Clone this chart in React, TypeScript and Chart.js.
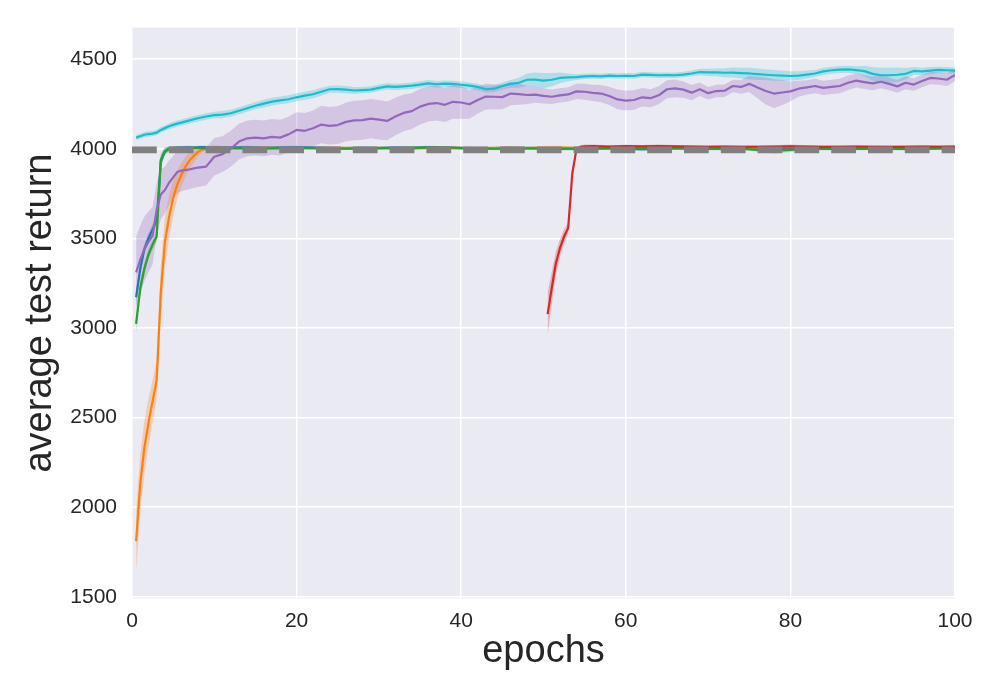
import { useEffect, useRef } from "react"
import { Chart, registerables, type Plugin } from "chart.js"

Chart.register(...registerables)

// x grids (epochs)
const fastEpochs = [
  0.5, 1, 1.5, 2, 2.5, 3, 3.5, 4, 4.5, 5,
  5.5, 6, 6.5, 7, 7.5, 8, 8.5, 9, 9.5, 10,
  12, 14, 16, 18, 20, 22, 24, 26, 28, 30,
  32, 34, 36, 38, 40, 42, 44, 46, 48, 50,
  52, 54, 56, 58, 60, 62, 64, 66, 68, 70,
  72, 74, 76, 78, 80, 82, 84, 86, 88, 90,
  92, 94, 96, 98, 100,
]

const redEpochs = [
  50.5, 51, 51.5, 52, 52.5, 53, 53.5, 54, 54.5, 55,
  56, 58, 60, 62, 64, 66, 68, 70, 72, 74,
  76, 78, 80, 82, 84, 86, 88, 90, 92, 94,
  96, 98, 100,
]

const longEpochs = [
  0.5, 1, 1.5, 2, 2.5, 3, 3.5, 4, 4.5, 5,
  5.5, 6, 7, 8, 9, 10, 11, 12, 13, 14,
  15, 16, 17, 18, 19, 20, 21, 22, 23, 24,
  25, 26, 27, 28, 29, 30, 31, 32, 33, 34,
  35, 36, 37, 38, 39, 40, 41, 42, 43, 44,
  45, 46, 47, 48, 49, 50, 51, 52, 53, 54,
  55, 56, 57, 58, 59, 60, 61, 62, 63, 64,
  65, 66, 67, 68, 69, 70, 71, 72, 73, 74,
  75, 76, 77, 78, 79, 80, 81, 82, 83, 84,
  85, 86, 87, 88, 89, 90, 91, 92, 93, 94,
  95, 96, 97, 98, 99, 100,
]

// blue
const blueValues = [
  3171, 3330, 3440, 3500, 3550, 3600, 3930, 3985, 4000, 4005,
  4006, 4007, 4008, 4008, 4007, 4008, 4009, 4008, 4007, 4008,
  4006, 4008, 4005, 4007, 4008, 4006, 4004, 4003, 4005, 4004,
  4006, 4005, 4008, 4006, 4004, 4002, 4003, 4005, 4004, 4003,
  4000, 4002, 4004, 4003, 4000, 3998, 4000, 4002, 4003, 4001,
  4000, 4002, 3996, 3998, 4000, 4002, 4000, 3998, 4000, 4002,
  4000, 3999, 4001, 4002, 4004,
]
const blueSpread = [
  40, 35, 30, 28, 28, 30, 35, 20, 12, 10,
  8, 8, 8, 8, 8, 8, 8, 8, 8, 8,
  8, 8, 8, 8, 8, 8, 8, 8, 8, 8,
  8, 8, 8, 8, 8, 8, 8, 8, 8, 8,
  8, 10, 8, 8, 10, 12, 10, 8, 8, 8,
  8, 8, 10, 10, 8, 8, 8, 8, 8, 8,
  8, 8, 8, 8, 8,
]

// green
const greenValues = [
  3022, 3220, 3330, 3410, 3465, 3510, 3940, 3985, 4000, 4004,
  4005, 4004, 4003, 4004, 4005, 4004, 4003, 4002, 4003, 4004,
  4003, 4004, 4002, 4003, 4004, 4003, 4002, 4001, 4002, 4003,
  4004, 4005, 4006, 4007, 4004, 4002, 4000, 4001, 4002, 4002,
  4001, 4000, 4001, 4002, 4003, 4002, 4003, 4004, 4002, 4000,
  4001, 4000, 3995, 3988, 3994, 4000, 4001, 4002, 4001, 4000,
  4002, 4003, 4002, 4003, 4004,
]
const greenSpread = [
  45, 40, 35, 30, 28, 30, 35, 20, 12, 10,
  8, 8, 8, 8, 8, 8, 8, 8, 8, 8,
  8, 8, 8, 8, 8, 8, 8, 8, 8, 8,
  8, 8, 8, 8, 8, 8, 8, 8, 8, 8,
  8, 8, 8, 8, 8, 8, 8, 8, 8, 8,
  8, 8, 10, 15, 12, 8, 8, 8, 8, 8,
  8, 8, 8, 8, 8,
]

// orange
const orangeValues = [
  1810, 2130, 2330, 2470, 2590, 2710, 3200, 3480, 3620, 3724,
  3800, 3855, 3900, 3935, 3960, 3982, 3995, 4002, 4005, 4006,
  4004, 4003, 4005, 4004, 4003, 4004, 4005, 4004, 4003, 4004,
  4003, 4002, 4004, 4005, 4003, 4002, 4004, 4005, 4004, 4005,
  4006, 4004, 4005, 4006, 4007, 4008, 4010, 4008, 4006, 4005,
  4004, 4006, 4005, 4008, 4010, 4008, 4006, 4005, 4006, 4005,
  4004, 4006, 4007, 4008, 4009,
]
const orangeSpread = [
  170, 160, 150, 135, 120, 110, 150, 140, 120, 100,
  80, 65, 55, 45, 35, 25, 18, 12, 10, 10,
  10, 10, 10, 10, 10, 10, 10, 10, 10, 10,
  10, 10, 10, 10, 10, 10, 10, 10, 10, 10,
  10, 10, 10, 10, 10, 10, 10, 10, 10, 10,
  10, 10, 10, 10, 10, 10, 10, 10, 10, 10,
  10, 10, 10, 10, 10,
]

// red
const redValues = [
  3077, 3222, 3360, 3445, 3510, 3557, 3863, 3995, 4010, 4013,
  4014, 4012, 4014, 4013, 4015, 4013, 4012, 4011, 4012, 4010,
  4011, 4012, 4013, 4012, 4010, 4011, 4012, 4011, 4010, 4011,
  4012, 4011, 4012,
]
const redSpread = [
  120, 90, 65, 50, 40, 30, 25, 15, 10, 10,
  10, 8, 8, 8, 8, 8, 8, 8, 8, 8,
  8, 8, 10, 8, 8, 8, 8, 8, 8, 8,
  8, 8, 8,
]

// purple
const purpleValues = [
  3310, 3380, 3440, 3480, 3515, 3660, 3745, 3770, 3810, 3840,
  3870, 3878, 3885, 3895, 3900, 3955, 3970, 4000, 4040, 4058,
  4062, 4058, 4066, 4062, 4080, 4105, 4100, 4114, 4135, 4128,
  4132, 4150, 4158, 4160, 4168, 4162, 4155, 4180, 4200, 4210,
  4235, 4250, 4255, 4245, 4262, 4258, 4248, 4272, 4291, 4290,
  4288, 4308, 4305, 4300, 4302, 4295, 4290, 4298, 4303, 4320,
  4318, 4312, 4308, 4294, 4275, 4268, 4272, 4287, 4282, 4298,
  4332, 4337, 4330, 4313, 4332, 4310, 4322, 4324, 4350, 4345,
  4362, 4342, 4322, 4308, 4314, 4320, 4335, 4342, 4350, 4340,
  4345, 4350, 4368, 4380, 4372, 4365, 4374, 4362, 4348, 4368,
  4358, 4378, 4395, 4392, 4385, 4412,
]
const purpleSpread = [
  200, 190, 180, 170, 160, 150, 140, 130, 125, 120,
  118, 115, 110, 108, 105, 105, 100, 100, 100, 100,
  100, 100, 100, 100, 98, 98, 100, 100, 105, 105,
  105, 108, 110, 110, 110, 110, 108, 105, 102, 100,
  100, 98, 98, 96, 95, 90, 80, 75, 72, 70,
  68, 65, 60, 50, 45, 42, 40, 40, 40, 42,
  45, 45, 48, 50, 55, 55, 55, 52, 50, 50,
  50, 50, 45, 42, 38, 35, 35, 35, 35, 38,
  45, 60, 75, 80, 70, 55, 45, 40, 40, 40,
  40, 40, 40, 38, 38, 38, 36, 36, 36, 36,
  35, 35, 35, 35, 35, 35,
]

// cyan
const cyanValues = [
  4062, 4070, 4078, 4082, 4084, 4090, 4105, 4115, 4125, 4133,
  4140, 4146, 4158, 4170, 4180, 4188, 4190, 4198, 4212, 4226,
  4240, 4252, 4263, 4270, 4276, 4287, 4296, 4304, 4318, 4332,
  4333, 4330, 4325, 4327, 4330, 4340, 4348, 4345, 4348, 4352,
  4358, 4365, 4360, 4363, 4362, 4357, 4352, 4345, 4332, 4335,
  4350, 4362, 4368, 4385, 4386, 4380, 4385, 4395, 4398, 4400,
  4404, 4406, 4404, 4408, 4406, 4407, 4406, 4414, 4412, 4410,
  4411, 4410, 4414, 4420, 4428, 4426, 4426, 4424, 4425, 4422,
  4420, 4416, 4413, 4410, 4408, 4406, 4408, 4414, 4420, 4432,
  4438, 4442, 4443, 4439, 4433, 4418, 4410, 4410, 4413, 4418,
  4434, 4432, 4436, 4440, 4438, 4436,
]
const cyanSpread = [
  14, 14, 15, 15, 15, 15, 16, 16, 16, 17,
  17, 17, 18, 18, 18, 18, 20, 20, 20, 20,
  20, 22, 22, 22, 22, 22, 22, 22, 22, 20,
  20, 20, 20, 18, 18, 18, 18, 18, 18, 18,
  18, 18, 18, 18, 18, 18, 18, 18, 18, 18,
  20, 22, 28, 35, 40, 42, 38, 30, 22, 16,
  15, 15, 15, 15, 15, 15, 15, 15, 15, 15,
  15, 15, 15, 16, 18, 20, 22, 25, 28, 30,
  32, 32, 30, 30, 28, 26, 25, 22, 20, 20,
  20, 20, 20, 22, 30, 38, 42, 42, 40, 32,
  22, 20, 20, 18, 18, 18,
]

// dashed reference line
const referenceEpochs = [0, 100]
const referenceReturn = 3994

const xTicks = [0, 20, 40, 60, 80, 100]
const yTicks = [1500, 2000, 2500, 3000, 3500, 4000, 4500]

const FONT = "'Liberation Sans', Arial, Helvetica, sans-serif"
const TEXT = "#262626"

const plotBackground: Plugin = {
  id: "plotBackground",
  beforeDraw(chart) {
    const { ctx, chartArea: a } = chart
    ctx.save()
    ctx.fillStyle = "#eaeaf2"
    ctx.fillRect(a.left, a.top, a.right - a.left, a.bottom - a.top)
    ctx.restore()
  },
}

function points(xs: number[], ys: number[], offs?: number[], sign = 0) {
  return xs.map((x, i) => ({ x, y: ys[i] + (offs ? sign * offs[i] : 0) }))
}

function series(xs: number[], ys: number[], spread: number[], color: string, rgb: string, order: number) {
  return [
    {
      data: points(xs, ys, spread, 1),
      borderColor: "rgba(0,0,0,0)",
      borderWidth: 0,
      pointRadius: 0,
      fill: false,
      order: 20,
    },
    {
      data: points(xs, ys, spread, -1),
      borderColor: "rgba(0,0,0,0)",
      borderWidth: 0,
      pointRadius: 0,
      fill: "-1",
      backgroundColor: `rgba(${rgb},0.28)`,
      order: 20,
    },
    {
      data: points(xs, ys),
      borderColor: color,
      borderWidth: 2.2,
      borderJoinStyle: "round" as const,
      pointRadius: 0,
      fill: false,
      order,
    },
  ]
}

export default function App() {
  const canvasRef = useRef<HTMLCanvasElement>(null)

  useEffect(() => {
    document.body.style.margin = "0"
    if (!canvasRef.current) return

    const chart = new Chart(canvasRef.current, {
      type: "line",
      data: {
        datasets: [
          {
            data: referenceEpochs.map((x) => ({ x, y: referenceReturn })),
            borderColor: "#808080",
            borderWidth: 6.7,
            borderDash: [24.8, 12],
            borderCapStyle: "butt",
            pointRadius: 0,
            fill: false,
            order: 0,
          },
          ...series(fastEpochs, blueValues, blueSpread, "#1f77b4", "31,119,180", 6),
          ...series(fastEpochs, orangeValues, orangeSpread, "#ff7f0e", "255,127,14", 5),
          ...series(fastEpochs, greenValues, greenSpread, "#2ca02c", "44,160,44", 4),
          ...series(redEpochs, redValues, redSpread, "#d62728", "214,39,40", 3),
          ...series(longEpochs, purpleValues, purpleSpread, "#9467bd", "148,103,189", 2),
          ...series(longEpochs, cyanValues, cyanSpread, "#17becf", "23,190,207", 1),
        ] as any,
      },
      options: {
        animation: false,
        responsive: true,
        maintainAspectRatio: false,
        layout: { padding: { top: 26, right: 45, bottom: 0, left: 0 } },
        plugins: { legend: { display: false }, tooltip: { enabled: false } },
        elements: { line: { tension: 0 }, point: { radius: 0 } },
        scales: {
          x: {
            type: "linear",
            min: 0,
            max: 100,
            border: { display: false },
            grid: { color: "#ffffff", lineWidth: 1.5, drawTicks: false },
            ticks: { padding: 10, color: TEXT, font: { family: FONT, size: 21 } },
            afterBuildTicks: (s) => {
              s.ticks = xTicks.map((value) => ({ value }))
            },
            afterFit: (s) => {
              s.height = 101.5
            },
            title: {
              display: true,
              text: "epochs",
              color: TEXT,
              font: { family: FONT, size: 38, lineHeight: 1 },
              padding: { top: 0, bottom: 29 },
            },
          },
          y: {
            type: "linear",
            min: 1490,
            max: 4676,
            border: { display: false },
            grid: { color: "#ffffff", lineWidth: 1.5, drawTicks: false },
            ticks: {
              padding: 15,
              color: TEXT,
              font: { family: FONT, size: 21 },
              callback: (v) => String(v),
            },
            afterBuildTicks: (s) => {
              s.ticks = yTicks.map((value) => ({ value }))
            },
            afterFit: (s) => {
              s.width = 132
            },
            title: {
              display: true,
              text: "average test return",
              color: TEXT,
              font: { family: FONT, size: 38, lineHeight: 1 },
              padding: { top: 22, bottom: 0 },
            },
          },
        },
      },
      plugins: [plotBackground],
    })

    return () => chart.destroy()
  }, [])

  return (
    <div style={{ position: "absolute", left: 0, top: 0, width: 1000, height: 700, background: "#fff" }}>
      <canvas ref={canvasRef} />
    </div>
  )
}
